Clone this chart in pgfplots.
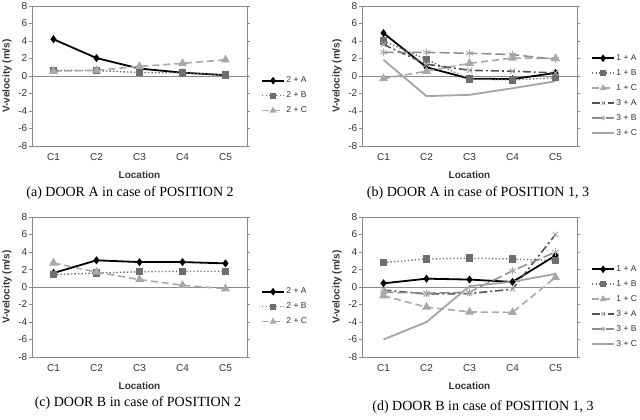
\documentclass[border=0pt]{standalone}
\usepackage{fontspec}
\setmainfont{Liberation Serif}
\setsansfont{Liberation Sans}
\usepackage{pgfplots}
\pgfplotsset{compat=1.18}

\definecolor{cB}{HTML}{6E6E6E}
\definecolor{cC}{HTML}{A8A8A8}
\definecolor{c3A}{HTML}{555555}
\definecolor{c3B}{HTML}{8C8C8C}
\definecolor{c3C}{HTML}{A4A4A4}
\definecolor{cAx}{HTML}{8A8A8A}
\definecolor{cT}{HTML}{333333}

\pgfplotsset{
  panel/.style={
    scale only axis, width=215pt, height=140pt,
    xmin=0.5, xmax=5.5, ymin=-8, ymax=8,
    xtick={1,2,3,4,5}, xticklabels={C1,C2,C3,C4,C5},
    ytick={-8,-6,-4,-2,0,2,4,6,8},
    yticklabels={-8,-6,-4,-2,0,2,4,6,8},
    axis line style={cAx, line width=0.8pt},
    x tick style={draw=none},
    y tick style={cAx, line width=0.6pt},
    ytick align=outside, major tick length=3pt,
    tick label style={font=\sffamily\fontsize{10}{10}\selectfont, text=cT},
    yticklabel style={inner sep=1.5pt},
    xticklabel style={yshift=-4pt},
    xlabel={Location}, ylabel={V-velocity (m/s)},
    label style={font=\sffamily\bfseries\fontsize{10}{10}\selectfont, text=cT},
    xlabel style={at={(axis description cs:0.5,-0.207)}, anchor=center},
    ylabel style={at={(axis description cs:-0.116,0.5)}, anchor=center},
    extra y ticks={0}, extra y tick labels={},
    extra y tick style={grid=major, major grid style={cAx, line width=0.7pt}, tick style={draw=none}},
    legend style={draw=none, fill=none, inner sep=0pt, at={(1.065,0.36)}, anchor=west,
      font=\sffamily\fontsize{8.5}{9}\selectfont, text=cT, row sep=4.5pt,
      nodes={inner sep=1.5pt}},
    legend cell align=left,
    legend image code/.code={\draw[mark repeat=2,mark phase=2,mark size=2.4pt,##1] plot coordinates {(0pt,0pt) (11pt,0pt) (22pt,0pt)};},
  },
  sA/.style={black, line width=1.8pt, mark=diamond*, mark size=2.6pt, mark options={solid, fill=black}},
  sB/.style={cB, line width=1.4pt, dash pattern=on 1.3pt off 2.2pt, mark=square*, mark size=3pt, mark options={solid, fill=cB}},
  sC/.style={cC, line width=1.6pt, dash pattern=on 7pt off 4pt, mark=triangle*, mark size=3.6pt, mark options={solid, fill=cC}},
  s3A/.style={c3A, line width=1.6pt, dash pattern=on 8pt off 3pt on 2pt off 3pt, mark=x, mark size=3.8pt, mark options={solid, draw=cC, line width=0.9pt}},
  s3B/.style={c3B, line width=1.5pt, dash pattern=on 10pt off 4pt, mark=asterisk, mark size=3.8pt, mark options={solid, draw=cC, line width=0.9pt}},
  s3C/.style={c3C, line width=1.8pt, mark=none},
}

\begin{document}
\begin{tikzpicture}
\useasboundingbox (0pt,0pt) rectangle (640pt,-420pt);

% (a) door A, position 2
\begin{axis}[panel, at={(32pt,-146pt)}, anchor=south west]
\addplot[sA] coordinates {(1,4.2) (2,2.05) (3,0.85) (4,0.38) (5,0.1)};
\addlegendentry{2 + A}
\addplot[sB] coordinates {(1,0.65) (2,0.62) (3,0.4) (4,0.38) (5,0.1)};
\addlegendentry{2 + B}
\addplot[sC] coordinates {(1,0.55) (2,0.65) (3,1.1) (4,1.45) (5,1.85)};
\addlegendentry{2 + C}
\end{axis}

% (b) door A, positions 1 and 3
\begin{axis}[panel, at={(362pt,-146pt)}, anchor=south west]
\addplot[sA] coordinates {(1,4.9) (2,1.0) (3,-0.3) (4,-0.35) (5,0.35)};
\addlegendentry{1 + A}
\addplot[sB] coordinates {(1,4.0) (2,1.9) (3,-0.35) (4,-0.45) (5,-0.2)};
\addlegendentry{1 + B}
\addplot[sC] coordinates {(1,-0.3) (2,0.55) (3,1.45) (4,2.05) (5,2.0)};
\addlegendentry{1 + C}
\addplot[s3A] coordinates {(1,3.6) (2,1.35) (3,0.65) (4,0.55) (5,0.35)};
\addlegendentry{3 + A}
\addplot[s3B] coordinates {(1,2.7) (2,2.7) (3,2.6) (4,2.45) (5,1.9)};
\addlegendentry{3 + B}
\addplot[s3C] coordinates {(1,1.85) (2,-2.3) (3,-2.15) (4,-1.4) (5,-0.6)};
\addlegendentry{3 + C}
\end{axis}

% (c) door B, position 2
\begin{axis}[panel, at={(32pt,-357pt)}, anchor=south west]
\addplot[sA] coordinates {(1,1.6) (2,3.05) (3,2.85) (4,2.85) (5,2.7)};
\addlegendentry{2 + A}
\addplot[sB] coordinates {(1,1.4) (2,1.6) (3,1.75) (4,1.8) (5,1.8)};
\addlegendentry{2 + B}
\addplot[sC] coordinates {(1,2.75) (2,1.7) (3,0.85) (4,0.2) (5,-0.2)};
\addlegendentry{2 + C}
\end{axis}

% (d) door B, positions 1 and 3
\begin{axis}[panel, at={(362pt,-357pt)}, anchor=south west]
\addplot[sA] coordinates {(1,0.42) (2,0.95) (3,0.85) (4,0.58) (5,3.6)};
\addlegendentry{1 + A}
\addplot[sB] coordinates {(1,2.8) (2,3.2) (3,3.3) (4,3.2) (5,3.0)};
\addlegendentry{1 + B}
\addplot[sC] coordinates {(1,-1.0) (2,-2.3) (3,-2.85) (4,-2.9) (5,1.1)};
\addlegendentry{1 + C}
\addplot[s3A] coordinates {(1,-0.35) (2,-0.8) (3,-0.75) (4,-0.25) (5,6.0)};
\addlegendentry{3 + A}
\addplot[s3B] coordinates {(1,-0.6) (2,-0.7) (3,-0.6) (4,1.85) (5,4.0)};
\addlegendentry{3 + B}
\addplot[s3C] coordinates {(1,-6.0) (2,-4.0) (3,0.1) (4,0.6) (5,1.5)};
\addlegendentry{3 + C}
\end{axis}

% sub-figure captions
\begin{scope}[every node/.style={font=\rmfamily\fontsize{14}{14}\selectfont, inner sep=0pt}]
\node at (130pt,-193pt) {(a) DOOR A in case of POSITION 2};
\node at (478pt,-193pt) {(b) DOOR A in case of POSITION 1, 3};
\node at (138pt,-403pt) {(c) DOOR B in case of POSITION 2};
\node at (483pt,-407pt) {(d) DOOR B in case of POSITION 1, 3};
\end{scope}
\end{tikzpicture}
\end{document}
